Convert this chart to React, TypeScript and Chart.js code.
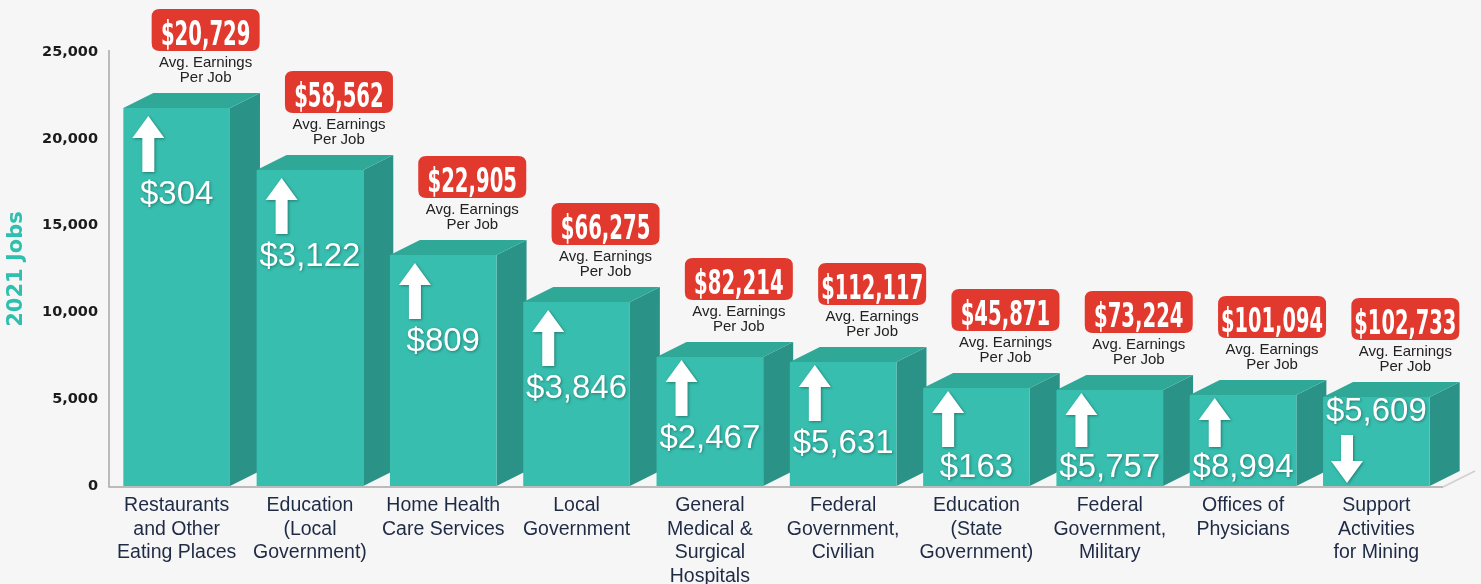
import React, { useEffect, useRef } from 'react';
import { Chart, registerables } from 'chart.js';

Chart.register(...registerables);

const categories: string[][] = [
  ['Restaurants', 'and Other', 'Eating Places'],
  ['Education', '(Local', 'Government)'],
  ['Home Health', 'Care Services'],
  ['Local', 'Government'],
  ['General', 'Medical &', 'Surgical', 'Hospitals'],
  ['Federal', 'Government,', 'Civilian'],
  ['Education', '(State', 'Government)'],
  ['Federal', 'Government,', 'Military'],
  ['Offices of', 'Physicians'],
  ['Support', 'Activities', 'for Mining'],
];
const jobs2021 = [21770, 18200, 13310, 10600, 7430, 7140, 5650, 5530, 5240, 5130];
const avgEarnings = ['$20,729', '$58,562', '$22,905', '$66,275', '$82,214', '$112,117', '$45,871', '$73,224', '$101,094', '$102,733'];
const earningsChange = [304, 3122, 809, 3846, 2467, 5631, 163, 5757, 8994, -5609];
const yMin = 0;
const yMax = 25000;
const yStep = 5000;

const FRONT = '#37BEAF';
const TOP = '#2FA898';
const SIDE = '#2A9286';
const RED = '#E1392D';
const DX = 30;
const DY = 15;

function fmtMoney(v: number) {
  return '$' + Math.abs(v).toLocaleString('en-US');
}

function roundRectPath(ctx: CanvasRenderingContext2D, x: number, y: number, w: number, h: number, r: number) {
  ctx.beginPath();
  ctx.moveTo(x + r, y);
  ctx.lineTo(x + w - r, y);
  ctx.quadraticCurveTo(x + w, y, x + w, y + r);
  ctx.lineTo(x + w, y + h - r);
  ctx.quadraticCurveTo(x + w, y + h, x + w - r, y + h);
  ctx.lineTo(x + r, y + h);
  ctx.quadraticCurveTo(x, y + h, x, y + h - r);
  ctx.lineTo(x, y + r);
  ctx.quadraticCurveTo(x, y, x + r, y);
  ctx.closePath();
}

function drawArrow(ctx: CanvasRenderingContext2D, cx: number, top: number, len: number, up: boolean) {
  const hw = 16;
  const hh = 22;
  const sw = 6;
  ctx.beginPath();
  if (up) {
    ctx.moveTo(cx, top);
    ctx.lineTo(cx + hw, top + hh);
    ctx.lineTo(cx + sw, top + hh);
    ctx.lineTo(cx + sw, top + len);
    ctx.lineTo(cx - sw, top + len);
    ctx.lineTo(cx - sw, top + hh);
    ctx.lineTo(cx - hw, top + hh);
  } else {
    const tip = top + len;
    ctx.moveTo(cx - sw, top);
    ctx.lineTo(cx + sw, top);
    ctx.lineTo(cx + sw, tip - hh);
    ctx.lineTo(cx + hw, tip - hh);
    ctx.lineTo(cx, tip);
    ctx.lineTo(cx - hw, tip - hh);
    ctx.lineTo(cx - sw, tip - hh);
  }
  ctx.closePath();
  ctx.fill();
}

const threeD = {
  id: 'threeD',
  beforeDatasetsDraw(chart: any) {
    const ctx: CanvasRenderingContext2D = chart.ctx;
    const meta = chart.getDatasetMeta(0);
    const base = chart.scales.y.getPixelForValue(0);
    ctx.save();
    meta.data.forEach((bar: any) => {
      const { x, y, width } = bar.getProps(['x', 'y', 'width'], true);
      const l = x - width / 2;
      const r = x + width / 2;
      ctx.fillStyle = SIDE;
      ctx.beginPath();
      ctx.moveTo(r, y);
      ctx.lineTo(r + DX, y - DY);
      ctx.lineTo(r + DX, base - DY);
      ctx.lineTo(r, base);
      ctx.closePath();
      ctx.fill();
      ctx.fillStyle = TOP;
      ctx.beginPath();
      ctx.moveTo(l, y);
      ctx.lineTo(l + DX, y - DY);
      ctx.lineTo(r + DX, y - DY);
      ctx.lineTo(r, y);
      ctx.closePath();
      ctx.fill();
    });
    ctx.restore();
  },
  afterDatasetsDraw(chart: any) {
    const ctx: CanvasRenderingContext2D = chart.ctx;
    const meta = chart.getDatasetMeta(0);
    const area = chart.chartArea;
    const base = chart.scales.y.getPixelForValue(0);
    ctx.save();
    // axes / floor
    ctx.strokeStyle = '#A8A8A8';
    ctx.lineWidth = 1.5;
    ctx.beginPath();
    ctx.moveTo(area.left - 1, area.top - 2);
    ctx.lineTo(area.left - 1, base + 1);
    ctx.lineTo(area.right, base + 1);
    ctx.stroke();
    ctx.strokeStyle = '#D0D0D0';
    ctx.beginPath();
    ctx.moveTo(area.right, base + 1);
    ctx.lineTo(area.right + DX + 2, base - DY);
    ctx.stroke();

    meta.data.forEach((bar: any, i: number) => {
      const { x, y, width } = bar.getProps(['x', 'y', 'width'], true);
      const l = x - width / 2;
      // badge
      const bcx = x + 29;
      const bBottom = y - 57;
      const bw = 108;
      const bh = 42;
      ctx.shadowColor = 'rgba(0,0,0,0)';
      ctx.fillStyle = RED;
      roundRectPath(ctx, bcx - bw / 2, bBottom - bh, bw, bh, 8);
      ctx.fill();
      ctx.fillStyle = '#FFFFFF';
      ctx.textAlign = 'center';
      ctx.textBaseline = 'alphabetic';
      ctx.font = 'bold 33px "Liberation Sans Narrow", "DejaVu Sans Condensed", sans-serif';
      const txt = avgEarnings[i];
      ctx.fillText(txt, bcx, bBottom - 6, 12.5 * txt.length + 2);
      ctx.fillStyle = '#222222';
      ctx.textBaseline = 'middle';
      ctx.font = '15px "Liberation Sans", Arial, sans-serif';
      ctx.fillText('Avg. Earnings', bcx, bBottom + 12);
      ctx.fillText('Per Job', bcx, bBottom + 27);

      // change arrow + value
      const ch = earningsChange[i];
      ctx.shadowColor = 'rgba(0,0,0,0.35)';
      ctx.shadowBlur = 3;
      ctx.shadowOffsetX = 1;
      ctx.shadowOffsetY = 1;
      ctx.fillStyle = '#FFFFFF';
      ctx.font = '33px "Liberation Sans", Arial, sans-serif';
      ctx.textAlign = 'center';
      ctx.textBaseline = 'middle';
      if (ch >= 0) {
        const aTop = y + (jobs2021[i] > 9000 ? 8 : 3);
        const textY = Math.min(aTop + 79, base - 18);
        const len = Math.min(56, textY - 21 - aTop);
        drawArrow(ctx, l + 25, aTop, len, true);
        ctx.fillText(fmtMoney(ch), x, textY);
      } else {
        const textY = y + 15;
        ctx.fillText(fmtMoney(ch), x, textY);
        const aTop = textY + 23;
        const len = Math.min(48, base - 3 - aTop);
        drawArrow(ctx, l + 24, aTop, len, false);
      }
      ctx.shadowColor = 'rgba(0,0,0,0)';
      ctx.shadowBlur = 0;
      ctx.shadowOffsetX = 0;
      ctx.shadowOffsetY = 0;
    });
    ctx.restore();
  },
};

export default function App() {
  const ref = useRef<HTMLCanvasElement | null>(null);
  useEffect(() => {
    if (!ref.current) return;
    const chart = new Chart(ref.current, {
      type: 'bar',
      data: {
        labels: categories,
        datasets: [
          {
            label: '2021 Jobs',
            data: jobs2021,
            backgroundColor: FRONT,
            borderWidth: 0,
            categoryPercentage: 0.8,
            barPercentage: 1,
          },
        ],
      },
      options: {
        animation: false,
        responsive: false,
        devicePixelRatio: 1,
        layout: { padding: { left: 0, right: 38, top: 52, bottom: 0 } },
        plugins: {
          legend: { display: false },
          tooltip: { enabled: false },
        },
        scales: {
          x: {
            grid: { display: false, drawTicks: false },
            border: { display: false },
            ticks: {
              color: '#1F2A44',
              padding: 8,
              maxRotation: 0,
              autoSkip: false,
              font: { family: '"Liberation Sans", Arial, sans-serif', size: 19.5, lineHeight: 1.21 },
            },
            afterFit: (s: any) => {
              s.height = 98;
            },
          },
          y: {
            min: yMin,
            max: yMax,
            grid: { display: false, drawTicks: false },
            border: { display: false },
            ticks: {
              stepSize: yStep,
              color: '#1B1B1B',
              padding: 12,
              font: { family: '"DejaVu Sans", sans-serif', size: 14.5, weight: 'bold' },
              callback: (v: any) => Number(v).toLocaleString('en-US'),
            },
            title: {
              display: true,
              text: '2021 Jobs',
              color: '#2EBFAE',
              font: { family: '"DejaVu Sans", sans-serif', size: 21, weight: 'bold' },
              padding: { top: 4, bottom: 0 },
            },
            afterFit: (s: any) => {
              s.width = 110;
            },
          },
        },
      },
      plugins: [threeD],
    });
    return () => chart.destroy();
  }, []);
  return (
    <div style={{ position: 'fixed', left: 0, top: 0, width: 1481, height: 584, background: '#F6F6F6' }}>
      <canvas ref={ref} width={1481} height={584} style={{ width: 1481, height: 584, display: 'block' }} />
    </div>
  );
}
